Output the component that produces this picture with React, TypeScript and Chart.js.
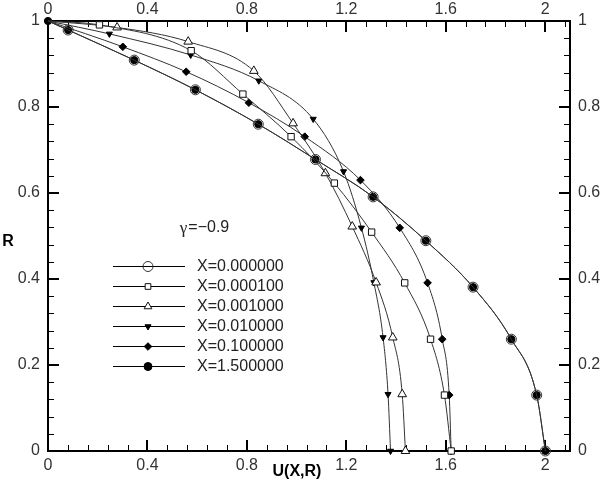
import React, { useEffect, useRef } from "react";
import { Chart, registerables } from "chart.js";

Chart.register(...registerables);

// ---- axis ticks ----
const xTickValues = [0, 0.4, 0.8, 1.2, 1.6, 2.0];
const yTickValues = [0, 0.2, 0.4, 0.6, 0.8, 1.0];
const xMin = 0;
const xMax = 2.1;
const yMin = 0;
const yMax = 1;

// ---- series ----
const seriesLabels = [
  "X=0.000000",
  "X=0.000100",
  "X=0.001000",
  "X=0.010000",
  "X=0.100000",
  "X=1.500000",
];

const uX0 = [0, 0.081, 0.347, 0.593, 0.846, 1.076, 1.308, 1.52, 1.71, 1.864, 1.966, 2.001];
const rX0 = [1, 0.979, 0.909, 0.84, 0.76, 0.678, 0.591, 0.489, 0.381, 0.26, 0.13, 0];

const uX1 = [0, 0.207, 0.576, 0.784, 0.978, 1.152, 1.302, 1.435, 1.539, 1.595, 1.622];
const rX1 = [1, 0.991, 0.931, 0.83, 0.731, 0.623, 0.509, 0.391, 0.26, 0.13, 0];

const uX2 = [0, 0.278, 0.564, 0.828, 0.986, 1.116, 1.224, 1.32, 1.387, 1.425, 1.438];
const rX2 = [1, 0.985, 0.952, 0.884, 0.762, 0.646, 0.522, 0.392, 0.264, 0.132, 0];

const uX3 = [0, 0.247, 0.574, 0.848, 1.067, 1.189, 1.261, 1.311, 1.348, 1.368, 1.378];
const rX3 = [1, 0.97, 0.921, 0.861, 0.772, 0.65, 0.519, 0.392, 0.264, 0.132, 0];

const uX4 = [0, 0.301, 0.556, 0.808, 1.033, 1.257, 1.415, 1.527, 1.586, 1.614, 1.622];
const rX4 = [1, 0.94, 0.882, 0.81, 0.731, 0.63, 0.519, 0.391, 0.26, 0.13, 0];

const uX5 = [0, 0.081, 0.347, 0.593, 0.846, 1.076, 1.308, 1.52, 1.71, 1.864, 1.966, 2.001];
const rX5 = [1, 0.979, 0.909, 0.84, 0.76, 0.678, 0.591, 0.489, 0.381, 0.26, 0.13, 0];

const seriesU = [uX0, uX1, uX2, uX3, uX4, uX5];
const seriesR = [rX0, rX1, rX2, rX3, rX4, rX5];

const gammaText = "=\u22120.9";
const xTitle = "U(X,R)";
const yTitle = "R";

type MarkerStyle = {
  shape: "circle" | "rect" | "triangle" | "rectRot";
  rotation: number;
  radius: number;
  legendRadius: number;
  fill: string;
  stroke: string;
  open: boolean;
};

const markers: MarkerStyle[] = [
  { shape: "circle", rotation: 0, radius: 5, legendRadius: 5, fill: "rgba(0,0,0,0)", stroke: "#333", open: true },
  { shape: "rect", rotation: 0, radius: 4.5, legendRadius: 4, fill: "#fff", stroke: "#111", open: true },
  { shape: "triangle", rotation: 0, radius: 5, legendRadius: 4.5, fill: "#fff", stroke: "#111", open: true },
  { shape: "triangle", rotation: 180, radius: 3.5, legendRadius: 3.5, fill: "#000", stroke: "#000", open: false },
  { shape: "rectRot", rotation: 0, radius: 3.8, legendRadius: 3.8, fill: "#000", stroke: "#000", open: false },
  { shape: "circle", rotation: 0, radius: 3.6, legendRadius: 4, fill: "#000", stroke: "#000", open: false },
];

const fmt = (v: number) => String(Number(v.toFixed(2)));

function drawMarker(ctx: CanvasRenderingContext2D, m: MarkerStyle, x: number, y: number, r: number) {
  ctx.save();
  ctx.beginPath();
  if (m.shape === "circle") {
    ctx.arc(x, y, r, 0, Math.PI * 2);
  } else if (m.shape === "rect") {
    const s = Math.SQRT1_2 * r;
    ctx.rect(x - s, y - s, 2 * s, 2 * s);
  } else if (m.shape === "rectRot") {
    ctx.moveTo(x, y - r);
    ctx.lineTo(x + r, y);
    ctx.lineTo(x, y + r);
    ctx.lineTo(x - r, y);
    ctx.closePath();
  } else {
    const rad = (m.rotation * Math.PI) / 180;
    for (let k = 0; k < 3; k++) {
      const a = rad + (k * 2 * Math.PI) / 3;
      const px = x + Math.sin(a) * r;
      const py = y - Math.cos(a) * r;
      if (k === 0) ctx.moveTo(px, py);
      else ctx.lineTo(px, py);
    }
    ctx.closePath();
  }
  ctx.fillStyle = m.fill;
  ctx.fill();
  ctx.lineWidth = 1;
  ctx.strokeStyle = m.stroke;
  ctx.stroke();
  ctx.restore();
}

const framePlugin = {
  id: "tecplotFrame",
  beforeDatasetsDraw(chart: any) {
    const { ctx, chartArea } = chart;
    const xs = chart.scales.x;
    const ys = chart.scales.y;
    ctx.save();
    ctx.strokeStyle = "#000";
    ctx.lineWidth = 2;
    ctx.strokeRect(chartArea.left, chartArea.top, chartArea.right - chartArea.left, chartArea.bottom - chartArea.top);

    const majorLen = 11;
    const minorLen = 6;
    for (let i = 0; i < xTickValues.length; i++) {
      const v = xTickValues[i];
      const step = i + 1 < xTickValues.length ? xTickValues[i + 1] - v : xTickValues[1] - xTickValues[0];
      for (let k = 0; k < 5; k++) {
        const val = v + (step * k) / 5;
        if (val > xMax + 1e-9) continue;
        const px = Math.round(xs.getPixelForValue(val));
        const len = k === 0 ? majorLen : minorLen;
        ctx.lineWidth = k === 0 ? 2 : 1;
        const off = k === 0 ? 0 : 0.5;
        ctx.beginPath();
        ctx.moveTo(px + off, chartArea.bottom);
        ctx.lineTo(px + off, chartArea.bottom - len);
        ctx.moveTo(px + off, chartArea.top);
        ctx.lineTo(px + off, chartArea.top + len);
        ctx.stroke();
      }
    }
    for (let i = 0; i < yTickValues.length; i++) {
      const v = yTickValues[i];
      const step = i + 1 < yTickValues.length ? yTickValues[i + 1] - v : 0;
      const count = step > 0 ? 5 : 1;
      for (let k = 0; k < count; k++) {
        const val = v + (step * k) / 5;
        const py = Math.round(ys.getPixelForValue(val));
        const len = k === 0 ? majorLen : minorLen;
        ctx.lineWidth = k === 0 ? 2 : 1;
        const off = k === 0 ? 0 : 0.5;
        ctx.beginPath();
        ctx.moveTo(chartArea.left, py + off);
        ctx.lineTo(chartArea.left + len, py + off);
        ctx.moveTo(chartArea.right, py + off);
        ctx.lineTo(chartArea.right - len, py + off);
        ctx.stroke();
      }
    }
    ctx.restore();
  },
  afterDraw(chart: any) {
    const { ctx } = chart;
    ctx.save();
    ctx.fillStyle = "#000";
    ctx.font = "bold 16px 'Liberation Sans', Arial, sans-serif";
    ctx.textAlign = "center";
    ctx.textBaseline = "middle";
    ctx.fillText(xTitle, 297, 472);
    ctx.fillText(yTitle, 8, 242);

    ctx.font = "17px 'Liberation Serif', serif";
    ctx.textAlign = "left";
    ctx.fillStyle = "#222";
    const gw = ctx.measureText("\u03b3").width;
    ctx.font = "16px 'Liberation Sans', Arial, sans-serif";
    const tw = ctx.measureText(gammaText).width;
    const startX = 204 - (gw + tw) / 2;
    ctx.font = "17px 'Liberation Serif', serif";
    ctx.fillText("\u03b3", startX, 229);
    ctx.font = "16px 'Liberation Sans', Arial, sans-serif";
    ctx.fillText(gammaText, startX + gw + 1, 228);

    for (let i = 0; i < seriesLabels.length; i++) {
      const y = 266 + 20 * i;
      ctx.strokeStyle = "#000";
      ctx.lineWidth = 1;
      ctx.beginPath();
      ctx.moveTo(113, y + 0.5);
      ctx.lineTo(185, y + 0.5);
      ctx.stroke();
      drawMarker(ctx, markers[i], 148, y + 0.5, markers[i].legendRadius);
      ctx.fillStyle = "#222";
      ctx.font = "16px 'Liberation Sans', Arial, sans-serif";
      ctx.textAlign = "left";
      ctx.textBaseline = "middle";
      ctx.fillText(seriesLabels[i], 197, y + 1);
    }
    ctx.restore();
  },
};

const tickFont = { family: "'Liberation Sans', Arial, sans-serif", size: 16 };

function makeXAxis(position: "top" | "bottom", height: number, padding: number) {
  return {
    type: "linear" as const,
    axis: "x" as const,
    position,
    min: xMin,
    max: xMax,
    grid: { display: false, drawTicks: false },
    border: { display: false },
    ticks: {
      font: tickFont,
      color: "#333",
      padding,
      maxRotation: 0,
      minRotation: 0,
      autoSkip: false,
      callback: (v: any) => fmt(Number(v)),
    },
    afterBuildTicks: (s: any) => {
      s.ticks = xTickValues.map((v) => ({ value: v }));
    },
    afterFit: (s: any) => {
      s.height = height;
    },
  };
}

function makeYAxis(position: "left" | "right", width: number, padding: number) {
  return {
    type: "linear" as const,
    axis: "y" as const,
    position,
    min: yMin,
    max: yMax,
    grid: { display: false, drawTicks: false },
    border: { display: false },
    ticks: {
      font: tickFont,
      color: "#333",
      padding,
      autoSkip: false,
      callback: (v: any) => fmt(Number(v)),
    },
    afterBuildTicks: (s: any) => {
      s.ticks = yTickValues.map((v) => ({ value: v }));
    },
    afterFit: (s: any) => {
      s.width = width;
    },
  };
}

export default function App() {
  const canvasRef = useRef<HTMLCanvasElement | null>(null);

  useEffect(() => {
    if (!canvasRef.current) return;
    const datasets = seriesLabels.map((label, i) => ({
      label,
      data: seriesU[i].map((u, j) => ({ x: u, y: seriesR[i][j] })),
      showLine: true,
      borderColor: "#333",
      borderWidth: 1,
      cubicInterpolationMode: "monotone" as const,
      pointStyle: markers[i].shape,
      pointRotation: markers[i].rotation,
      pointRadius: seriesU[i].map((_, j) => (j === 0 && markers[i].open ? 0 : markers[i].radius)),
      pointBackgroundColor: markers[i].fill,
      pointBorderColor: markers[i].stroke,
      pointBorderWidth: 1,
      clip: false as any,
      xAxisID: "x",
      yAxisID: "y",
    }));

    const chart = new Chart(canvasRef.current, {
      type: "scatter",
      data: { datasets },
      options: {
        animation: false,
        responsive: false,
        maintainAspectRatio: false,
        devicePixelRatio: 1,
        layout: { padding: 0 },
        plugins: { legend: { display: false }, tooltip: { enabled: false } },
        scales: {
          x: makeXAxis("bottom", 29, 5),
          x2: makeXAxis("top", 21, 2),
          y: makeYAxis("left", 48, 8),
          y2: makeYAxis("right", 30, 8),
        } as any,
      },
      plugins: [framePlugin],
    });
    return () => chart.destroy();
  }, []);

  return (
    <div style={{ position: "absolute", left: 0, top: 0, width: 600, height: 480, background: "#fff" }}>
      <canvas ref={canvasRef} width={600} height={480} style={{ width: 600, height: 480 }} />
    </div>
  );
}
